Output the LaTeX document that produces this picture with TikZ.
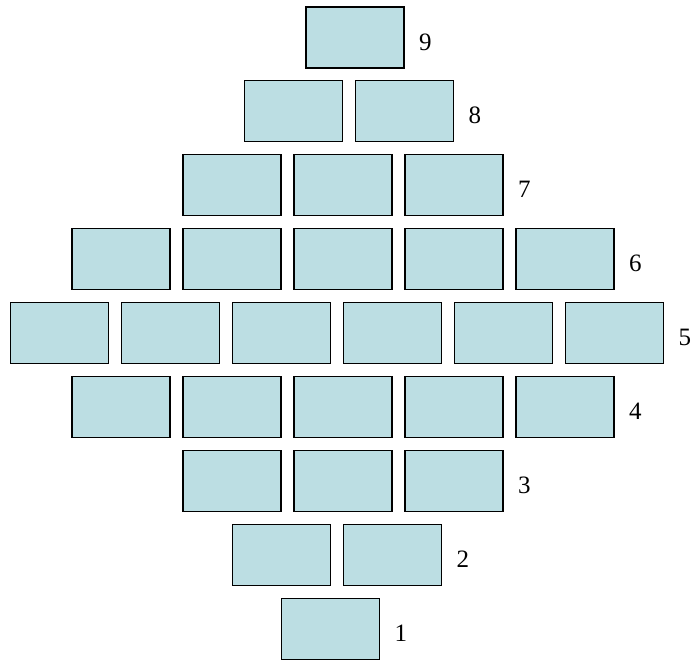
\documentclass[tikz,border=0pt]{standalone}
\usepackage{fontspec}
\setmainfont{Liberation Serif}
\definecolor{boxfill}{RGB}{188,222,227}
\begin{document}
\begin{tikzpicture}[x=1pt,y=-1pt,
  brick/.style={draw=black, fill=boxfill, line width=1.6pt, minimum width=98pt, minimum height=61pt, inner sep=0pt},
  rowlabel/.style={anchor=west, inner sep=0pt, font=\fontsize{25}{27}\selectfont, yshift=-4.5pt}]
\useasboundingbox (0,0) rectangle (691,660);
% row, count, first x, y
\foreach \r/\n/\xo/\yy in {9/1/355/37.5, 8/2/293.5/111, 7/3/232/185, 6/5/121/259, 5/6/59.5/333, 4/5/121/407, 3/3/232/481, 2/2/281.5/555, 1/1/330.5/629}{
  \foreach \c in {1,...,\n}{
    \node[brick] (r\r c\c) at ({\xo+111*(\c-1)},\yy) {};
  }
  \node[rowlabel] (lab\r) at ([xshift=14pt]r\r c\n.east) {\r};
}
\end{tikzpicture}
\end{document}
